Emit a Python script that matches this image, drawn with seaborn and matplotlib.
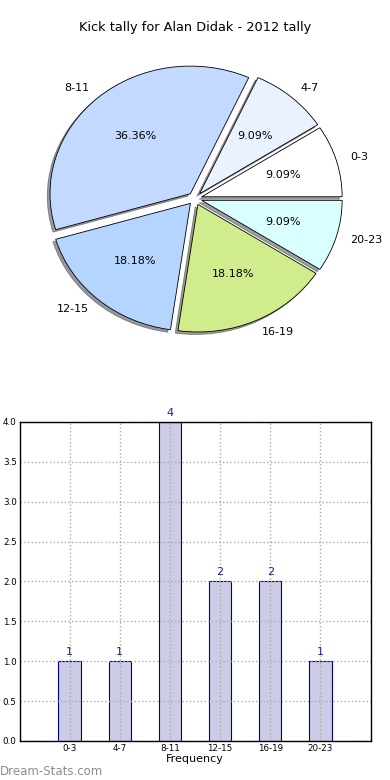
import matplotlib
matplotlib.use("Agg")
import matplotlib.pyplot as plt
import seaborn as sns
import pandas as pd

# Kick tally data
bins = ["0-3", "4-7", "8-11", "12-15", "16-19", "20-23"]
kicks = [1, 1, 4, 2, 2, 1]
slice_colors = ["#FFFFFF", "#EBF2FF", "#C4D9FF", "#B3D5FF", "#D0EC8C", "#DAFFFF"]
explode = [0.05] * len(bins)

sns.set_style("white")
plt.rcParams["font.family"] = ["DejaVu Sans"]
plt.rcParams["text.color"] = "black"
plt.rcParams["axes.labelcolor"] = "black"
plt.rcParams["xtick.labelcolor"] = "black"
plt.rcParams["ytick.labelcolor"] = "black"

fig = plt.figure(figsize=(3.9, 7.8), dpi=100)
fig.subplots_adjust(left=0.05, right=0.95, bottom=0.05, top=0.95, hspace=0.2)

# Pie chart (top)
ax1 = fig.add_subplot(2, 1, 1)
wedges, texts, autotexts = ax1.pie(
    kicks, labels=bins, colors=slice_colors, explode=explode,
    autopct="%.2f%%", shadow=dict(ox=-0.014, oy=-0.014, shade=0.75),
    startangle=0,
    wedgeprops=dict(edgecolor="black", linewidth=0.6),
    textprops=dict(fontsize=8, color="black"),
)
ax1.set_aspect("auto")  # old-style stretched pie
ax1.set_xlim(-1.25, 1.25)
ax1.set_ylim(-1.25, 1.25)
ax1.set_title("Kick tally for Alan Didak - 2012 tally", fontsize=9.3)

# Bar chart (bottom)
ax2 = fig.add_subplot(2, 1, 2)
df = pd.DataFrame({"bin": bins, "kicks": kicks})
sns.barplot(data=df, x="bin", y="kicks", ax=ax2, color="#CCCCE6",
            edgecolor="#00008B", linewidth=0.8, width=0.45, saturation=1)
for cont in ax2.containers:
    ax2.bar_label(cont, labels=[str(v) for v in kicks], padding=3,
                  color="#1F1F8F", fontsize=8)
ax2.set_xlim(-1, 6)
ax2.set_ylim(0, 4)
ax2.set_yticks([0, 0.5, 1.0, 1.5, 2.0, 2.5, 3.0, 3.5, 4.0])
ax2.set_yticklabels(["0.0", "0.5", "1.0", "1.5", "2.0", "2.5", "3.0", "3.5", "4.0"])
ax2.set_xlabel("Frequency", fontsize=8, labelpad=1)
ax2.set_ylabel("")
ax2.tick_params(axis="both", labelsize=6.3, direction="in", length=3,
                color="#AAAAAA", pad=2)
ax2.grid(True, linestyle=":", color="#AAAAAA", linewidth=1)
ax2.set_axisbelow(False)
for s in ax2.spines.values():
    s.set_visible(True)
    s.set_color("black")
    s.set_linewidth(1)
    s.set_zorder(5)

fig.text(0.0, 0.003, "Dream-Stats.com", fontsize=8.5, color="#8C8C8C",
         ha="left", va="bottom")

fig.savefig("out.png", dpi=100)
